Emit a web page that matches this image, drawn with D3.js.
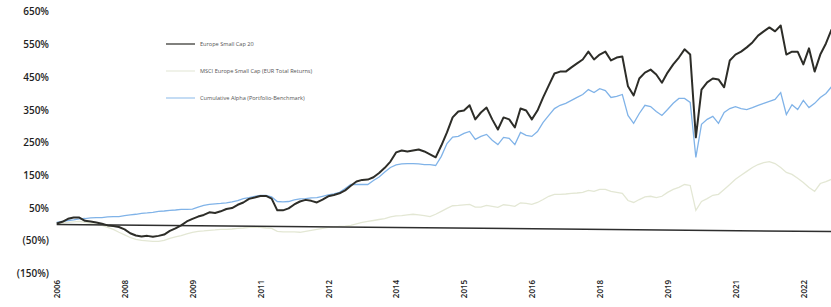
<!DOCTYPE html>
<html>
<head>
<meta charset="utf-8">
<script src="https://d3js.org/d3.v7.min.js"></script>
<style>
  * { margin: 0; padding: 0; }
  body { background: #fff; width: 831px; height: 307px; overflow: hidden; }
  .axis text { font-family: 'Open Sans', sans-serif; font-weight: 600; fill: #1e1e1e; }
  .axis path { display: none; }
  .legend text { font-family: 'Open Sans', sans-serif; font-size: 5.6px; fill: #555; }
</style>
</head>
<body>
<div id="chart"></div>
<script>
// observations are evenly spaced, one year label every 12 obs
const years = ["2006","2008","2009","2011","2012","2014","2015","2016","2018","2019","2021","2022"];
const tickObs = [0,12,24,36,48,60,72,84,96,108,120,132];
const yTicks = [-150,-50,50,150,250,350,450,550,650];

const names = ["Europe Small Cap 20", "MSCI Europe Small Cap (EUR Total Returns)", "Cumulative Alpha (Portfolio-Benchmark)"];

// cumulative return, %
const portfolio = [3,8,17,21,21,11,9,6,2,-3,
  -5,-8,-15,-27,-34,-37,-35,-38,-35,-31,
  -20,-12,-3,9,17,24,29,37,35,40,
  47,50,60,67,78,82,87,87,79,43,
  43,49,61,70,75,72,67,76,86,90,
  95,104,118,131,136,137,144,157,173,192,
  220,226,223,226,229,223,214,205,241,281,
  327,345,348,364,321,342,357,321,290,327,
  321,296,354,348,321,348,388,425,461,467,
  467,480,492,504,528,504,519,528,501,510,
  513,422,394,446,464,473,458,433,464,489,
  510,535,519,266,412,434,446,443,419,501,
  519,528,541,556,577,590,602,590,608,519,
  528,528,489,538,467,519,553,596];

const benchmark = [3,5,6,8,9,6,3,0,-3,-9,
  -15,-24,-32,-40,-46,-49,-50,-52,-52,-49,
  -43,-38,-34,-29,-24,-21,-20,-18,-17,-15,
  -15,-14,-12,-11,-9,-9,-9,-11,-12,-21,
  -23,-23,-23,-24,-21,-18,-15,-12,-9,-8,
  -6,-5,-3,2,6,9,12,15,18,23,
  26,27,29,31,29,27,24,31,40,49,
  57,58,60,61,53,53,58,55,52,60,
  58,55,66,64,61,67,76,86,92,92,
  93,95,96,98,104,101,107,107,101,98,
  95,73,67,76,84,86,82,86,98,107,
  113,122,119,43,70,79,89,92,107,122,
  138,150,162,174,183,189,192,186,174,159,
  153,141,128,113,101,125,131,138];

const alpha = [6,9,12,14,17,18,20,21,21,23,
  24,24,27,29,31,34,35,37,40,41,
  43,44,46,46,47,53,58,61,63,64,
  66,69,73,79,82,86,89,89,84,70,
  69,70,75,78,79,81,82,86,90,93,
  98,110,122,122,122,122,134,145,160,174,
  182,185,186,186,185,183,183,180,208,247,
  267,269,278,284,260,269,275,257,244,266,
  263,244,281,272,269,284,312,333,354,364,
  370,379,388,397,412,403,415,409,388,391,
  397,333,309,339,364,360,345,333,351,370,
  385,385,373,205,306,321,330,309,342,354,
  360,354,351,357,364,370,376,382,403,336,
  366,351,379,357,370,388,400,421];

// the scanned zero line is slightly tilted
const baseObs = [0, 137];
const baseline = [0, -22];

const w = 831, h = 307;

const svg = d3.select("#chart").append("svg")
  .attr("width", w)
  .attr("height", h);

const x = d3.scaleLinear().domain([0, portfolio.length - 1]).range([56.7, 831.6]);
const y = d3.scaleLinear().domain([-150, 650]).range([273.5, 11.7]);

const line = d3.line()
  .x((d, i) => x(i))
  .y(d => y(d));

// y axis labels
svg.append("g")
  .attr("class", "axis")
  .attr("transform", "translate(49,0)")
  .call(d3.axisLeft(y).tickValues(yTicks).tickSize(0).tickPadding(0)
    .tickFormat(d => d < 0 ? "(" + (-d) + "%)" : d + "%"))
  .selectAll("text")
  .style("font-size", "10px");

// x axis labels, rotated
svg.append("g")
  .attr("class", "axis")
  .attr("transform", "translate(0,289)")
  .call(d3.axisBottom(x).tickValues(tickObs).tickSize(0)
    .tickFormat((d, i) => years[i]))
  .selectAll("text")
  .style("font-size", "8px")
  .attr("transform", "rotate(-90)")
  .attr("x", 0)
  .attr("y", 0)
  .attr("dy", "0.35em")
  .attr("text-anchor", "middle");

svg.append("path")
  .datum(benchmark)
  .attr("d", line)
  .attr("fill", "none")
  .attr("stroke", "#e3e7d4")
  .attr("stroke-width", 1.3);

svg.append("line")
  .attr("x1", x(baseObs[0])).attr("y1", y(baseline[0]))
  .attr("x2", x(baseObs[1])).attr("y2", y(baseline[1]))
  .attr("stroke", "#2e2e2e")
  .attr("stroke-width", 1.5);

svg.append("path")
  .datum(alpha)
  .attr("d", line)
  .attr("fill", "none")
  .attr("stroke", "#80b3e8")
  .attr("stroke-width", 1.3);

svg.append("path")
  .datum(portfolio)
  .attr("d", line)
  .attr("fill", "none")
  .attr("stroke", "#2d2d28")
  .attr("stroke-width", 2)
  .attr("stroke-linejoin", "round");

// legend
const colors = ["#2d2d28", "#e6e9da", "#9cc4ec"];
const legend = svg.append("g").attr("class", "legend");
names.forEach((n, i) => {
  const ly = 44 + i * 27;
  legend.append("line")
    .attr("x1", 166).attr("x2", 195)
    .attr("y1", ly).attr("y2", ly)
    .attr("stroke", colors[i])
    .attr("stroke-width", 1.2);
  legend.append("text")
    .attr("x", 200)
    .attr("y", ly)
    .attr("dy", "0.35em")
    .text(n);
});
</script>
</body>
</html>
